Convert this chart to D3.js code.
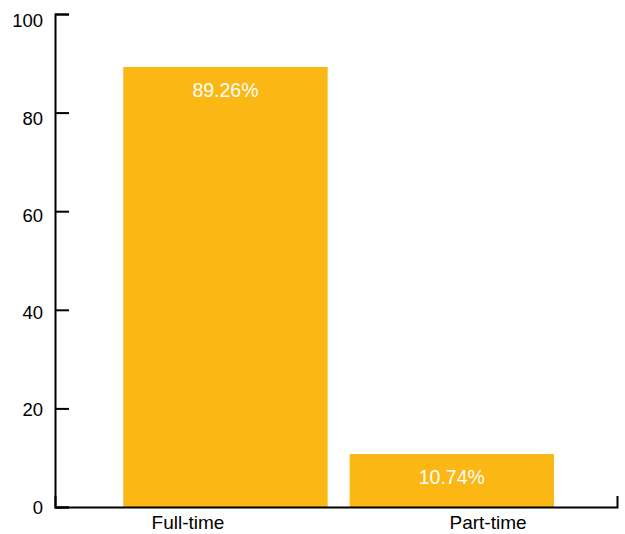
<!DOCTYPE html>
<html>
<head>
<meta charset="utf-8">
<script src="https://cdn.jsdelivr.net/npm/d3@7"></script>
<style>
  html, body { margin: 0; padding: 0; background: #fff; }
  svg { display: block; }
  text { font-family: "Liberation Sans", Arial, Helvetica, sans-serif; }
</style>
</head>
<body>
<svg id="chart" width="625" height="534"></svg>
<script>
const categories = ["Full-time", "Part-time"];
const values = [89.26, 10.74];
const valueLabels = ["89.26%", "10.74%"];
const yTicks = [0, 20, 40, 60, 80, 100];

const svg = d3.select("#chart");
const color = "#fbb713";

const y = d3.scaleLinear().domain([0, 100]).range([507, 14]);
const yLabel = d3.scaleLinear().domain([0, 100]).range([506.7, 20.5]);
const x = d3.scaleBand().domain(categories).range([55, 617])
  .paddingInner(0.097).paddingOuter(0.29).align(0.52);
const xLabel = d3.scalePoint().domain(categories).range([188, 488]);

// bars
svg.append("g").selectAll("rect").data(categories).join("rect")
  .attr("x", d => x(d))
  .attr("y", (d, i) => y(values[i]))
  .attr("width", x.bandwidth())
  .attr("height", (d, i) => y(0) - y(values[i]))
  .attr("fill", color);

// value labels
svg.append("g").selectAll("text").data(categories).join("text")
  .attr("x", d => x(d) + x.bandwidth() / 2)
  .attr("y", (d, i) => y(values[i]) + 30)
  .attr("text-anchor", "middle")
  .attr("fill", "#fff")
  .attr("font-size", 19.5)
  .text((d, i) => valueLabels[i]);

// y axis
const yAxis = d3.axisLeft(y).tickValues(yTicks).tickSizeInner(-14).tickSizeOuter(-14).tickPadding(12);
const gy = svg.append("g").attr("transform", "translate(55,0)").call(yAxis);
gy.select(".domain").attr("stroke", "#000").attr("stroke-width", 2);
gy.selectAll(".tick line").attr("stroke", "#000").attr("stroke-width", 2);
gy.selectAll(".tick").each(function(d) {
  const t = d3.select(this);
  t.select("text")
    .attr("y", yLabel(d) - y(d))
    .attr("dy", "0.35em")
    .attr("font-size", 18.5)
    .attr("font-family", "Liberation Sans, Arial, sans-serif")
    .attr("fill", "#000");
});

// x axis
const xAxis = d3.axisBottom(x).tickSizeInner(0).tickSizeOuter(-11).tickFormat("");
const gx = svg.append("g").attr("transform", "translate(0,507)").call(xAxis);
gx.select(".domain").attr("stroke", "#000").attr("stroke-width", 2);
gx.selectAll(".tick").remove();

// category labels
svg.append("g").selectAll("text").data(categories).join("text")
  .attr("x", d => xLabel(d))
  .attr("y", 529)
  .attr("text-anchor", "middle")
  .attr("font-size", 19)
  .attr("fill", "#000")
  .text(d => d);
</script>
</body>
</html>
